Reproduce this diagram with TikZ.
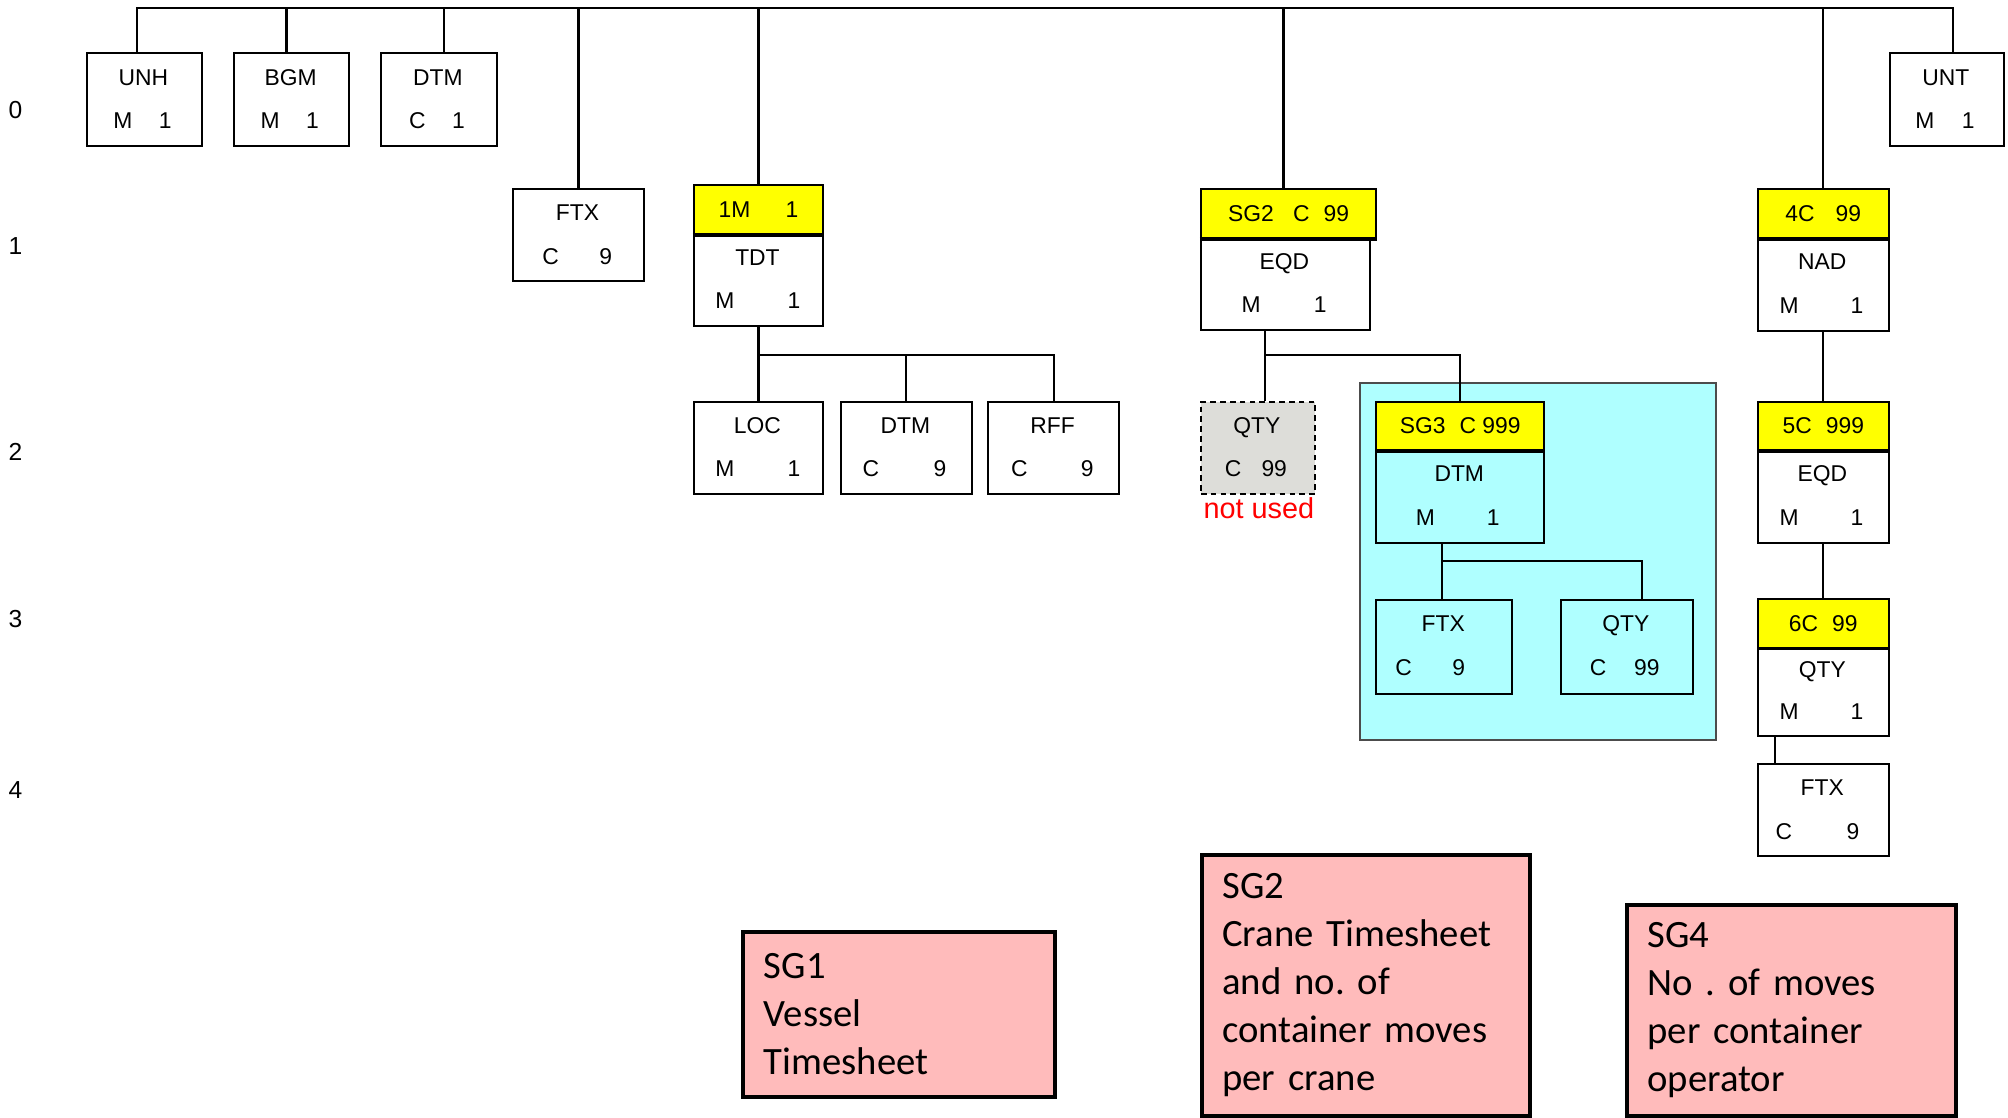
\documentclass[tikz,border=0pt]{standalone}
\usepackage{fontspec}
\setmainfont{Liberation Sans}
\newfontfamily\notefont{Carlito}
\frenchspacing
\newcommand{\px}{0.0128cm}
\newcommand{\boxfont}{\fontsize{6.5}{7.8}\selectfont}
\definecolor{segyellow}{RGB}{255,255,0}
\definecolor{grpcyan}{RGB}{175,255,255}
\definecolor{unusedgray}{RGB}{221,221,217}
\definecolor{notepink}{RGB}{255,187,187}
\begin{document}
\begin{tikzpicture}[x=0.0128cm,y=-0.0128cm,
    seg/.style={draw,line width=0.55pt,inner sep=0pt,anchor=north west},
    head/.style={seg,fill=segyellow,font=\boxfont},
    unused/.style={seg,fill=unusedgray,dashed,dash pattern=on 1.6pt off 1.2pt},
    grp/.style={seg,fill=grpcyan,draw=black!70},
    sepline/.style={line width=1pt},
    txt/.style={inner sep=0pt,font=\boxfont,text height=4.7pt,text depth=0pt},
    lvl/.style={inner sep=0pt,font=\fontsize{7}{8}\selectfont},
    link/.style={line width=0.6pt},
    note/.style={draw,line width=1.1pt,fill=notepink,anchor=north west,align=left,
      inner xsep=0.2048cm,inner ysep=0pt,font=\notefont\fontsize{11}{13.66}\selectfont}]
  \useasboundingbox (0,0) rectangle (1568,872.3);
  % level numbers
  \foreach \lv/\ly in {0/86,1/192,2/353,3/483,4/617}
    \node[lvl] (lv\lv) at (12,\ly) {\lv};
  % group SG3 background
  \node[grp,minimum width=278*\px,minimum height=279*\px] (sg3grp) at (1061,298) {};
  % plain segments
  \foreach \nm/\bx/\by/\bw/\bh/\ttl/\stt/\sx/\rp/\rx in {
      unh/67/41/90/72/UNH/M/96/1/129,
      bgm/182/41/90/72/BGM/M/211/1/244,
      dtma/297/41/90/72/DTM/C/326/1/358,
      unt/1475/41/89/72/UNT/M/1503/1/1537,
      ftxa/400/147/102/72/FTX/C/430/9/473,
      loc/541/313/101/72/LOC/M/566/1/620,
      dtmb/656/313/102/72/DTM/C/680/9/734,
      rff/771/313/102/72/RFF/C/796/9/849,
      ftxc/1074/468/106/73/FTX/C/1096/9/1139,
      qtyc/1218/468/103/73/QTY/C/1248/99/1286,
      ftxd/1372/596/102/72/FTX/C/1393/9/1447}{
    \node[seg,minimum width=\bw*\px,minimum height=\bh*\px] (\nm) at (\bx,\by) {};
    \node[txt] (\nm-t) at ({\bx+\bw/2},{\by+19}) {\ttl};
    \node[txt] (\nm-l) at (\sx,{\by+53}) {\stt};
    \node[txt] (\nm-r) at (\rx,{\by+53}) {\rp};
  }
  % segment groups: yellow header over trigger segment
  \foreach \hn/\nm/\bx/\by/\hw/\bw/\bh/\hd/\ttl/\stt/\sx/\rp/\rx in {
      h1m/tdt/541/144/101/101/72/{1M\hspace{10pt}1}/TDT/M/566/1/620,
      hsg2/eqd/937/147/137/132/72/{SG2\hspace{5.5pt}C\hspace{4pt}99}/EQD/M/977/1/1031,
      hsg3/dtmc/1074/313/131/131/72/{SG3\hspace{4pt}C 999}/DTM/M/1113/1/1166,
      h4c/nad/1372/147/102/102/73/{4C\hspace{6pt}99}/NAD/M/1397/1/1450,
      h5c/eqdd/1372/313/102/102/72/{5C\hspace{4pt}999}/EQD/M/1397/1/1450,
      h6c/qtyd/1372/467/102/102/69/{6C\hspace{4pt}99}/QTY/M/1397/1/1450}{
    \node[head,minimum width=\hw*\px,minimum height=38*\px] (\hn) at (\bx,\by) {\hd};
    \node[seg,minimum width=\bw*\px,minimum height=\bh*\px] (\nm) at (\bx,{\by+38}) {};
    \draw[sepline] (\hn.south west) -- (\hn.south east);
    \node[txt] (\nm-t) at ({\bx+\bw/2},{\by+38+0.26*\bh}) {\ttl};
    \node[txt] (\nm-l) at (\sx,{\by+38+0.73*\bh}) {\stt};
    \node[txt] (\nm-r) at (\rx,{\by+38+0.73*\bh}) {\rp};
  }
  % unused QTY
  \node[unused,minimum width=89*\px,minimum height=72*\px] (qtyb) at (937,313) {};
  \node[txt] (qtyb-t) at (981.5,332) {QTY};
  \node[txt] (qtyb-l) at (963,366) {C};
  \node[txt] (qtyb-r) at (995,366) {99};
  \node[inner sep=0pt,text=red,font=\fontsize{8.2}{9}\selectfont] (nu) at (983,397) {not used};
  % top level bus
  \coordinate (bus) at (0,6);
  \draw[link] ([xshift=-6*\px]unh.north) |- ([xshift=4.5*\px]unt.north |- bus) -- ([xshift=4.5*\px]unt.north);
  \foreach \nm/\dx in {bgm/-4,dtma/4,ftxa/0,h1m/0,hsg2/-4,h4c/0}
    \draw[link] ([xshift=\dx*\px]\nm.north) -- ([xshift=\dx*\px]\nm.north |- bus);
  % SG1 children
  \coordinate (j1) at (592,277);
  \draw[link] (tdt.south) -- (loc.north);
  \draw[link] (j1) -| (dtmb.north);
  \draw[link] (j1) -| (rff.north);
  % SG2 children
  \coordinate (j2) at (988,277);
  \draw[link] (eqd.south -| j2) -- (qtyb.north -| j2);
  \draw[link] (j2) -| (hsg3.north);
  % SG3 children
  \coordinate (j3) at (1126,438);
  \draw[link] (dtmc.south -| j3) -- (ftxc.north -| j3);
  \draw[link] (j3) -| ([xshift=12*\px]qtyc.north);
  % SG4 chain
  \draw[link] (nad.south) -- (h5c.north);
  \draw[link] (eqdd.south) -- (h6c.north);
  \draw[link] ([xshift=-38*\px]qtyd.south) -- ([xshift=-38*\px]ftxd.north);
  % notes
  \node[note,minimum width=3.1104cm,minimum height=1.6512cm,text width=2.7008cm] (sg1note) at (579,726)
    {SG1\\Vessel\\Timesheet};
  \node[note,minimum width=3.2768cm,minimum height=2.6112cm,text width=2.8672cm] (sg2note) at (937,666)
    {SG2\\Crane Timesheet\\and no. of\\container moves\\per crane};
  \node[note,minimum width=3.2896cm,minimum height=2.112cm,text width=2.88cm] (sg4note) at (1269,705)
    {SG4\\No . of moves\\per container\\operator};
\end{tikzpicture}
\end{document}
